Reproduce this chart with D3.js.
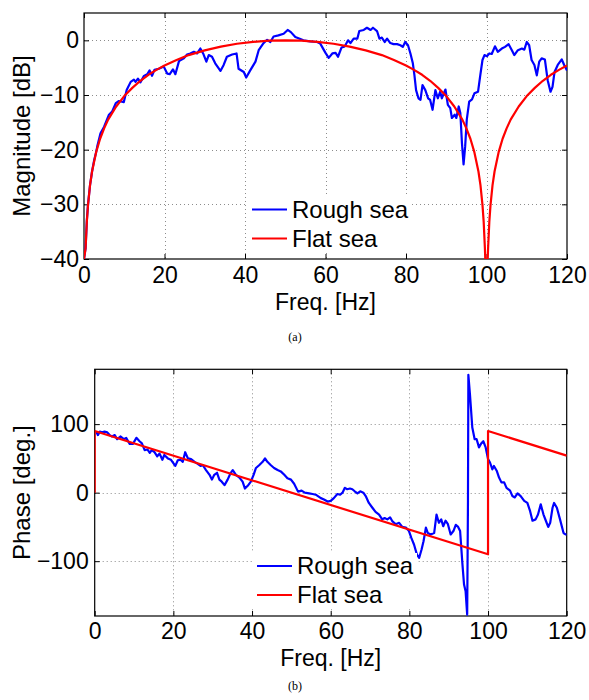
<!DOCTYPE html>
<html><head><meta charset="utf-8">
<script src="https://cdn.jsdelivr.net/npm/d3@7"></script>
<style>html,body{margin:0;padding:0;background:#fff;}svg{display:block;}</style>
</head><body>
<script>
// ---------- DATA ----------
const freqTicks = [0, 20, 40, 60, 80, 100, 120];
const magTicks = [-40, -30, -20, -10, 0];
const phaseTicks = [-100, 0, 100];
const seriesNames = ["Rough sea", "Flat sea"];

// Magnitude, rough sea [freq Hz, dB]
const magRough = [[0,-40],[0.4,-38],[0.7,-33],[1,-30],[1.5,-26.5],[2,-24],[2.5,-22],[3,-20.5],[3.3,-19.4],[4.1,-17],[5,-15.8],[6.2,-13.6],[7,-13],[7.9,-11.5],[8.7,-11.1],[9.9,-11.3],[10.6,-9.1],[11.6,-7.6],[12.4,-7.2],[12.8,-7.6],[13.4,-7.0],[14,-7.7],[14.9,-6.5],[15.7,-6.2],[16.3,-5.5],[16.9,-6.5],[17.5,-5.4],[18.6,-5.2],[19.8,-4.8],[20.7,-6.1],[21.3,-6.2],[22.1,-5.3],[22.7,-6.2],[23.6,-3.8],[24.8,-3.3],[25.6,-2.6],[26.4,-2.4],[27.3,-2.1],[28.1,-2.4],[28.9,-1.5],[29.6,-2.4],[30.4,-3.9],[31,-2.7],[31.8,-3.0],[32.6,-4.2],[33.9,-5.6],[34.7,-4.5],[35.5,-3.0],[36.8,-2.6],[37.9,-2.4],[38.4,-5.2],[39.7,-5.8],[40.3,-6.8],[41.3,-5.5],[42.6,-3.9],[43.4,-1.8],[44.6,-0.5],[45.5,0.1],[46.3,-0.3],[47.1,0.7],[48.3,0.9],[49.6,1.2],[50.6,1.9],[51.4,1.5],[52.5,0.6],[53.6,0.3],[54.5,0],[56.2,-0.2],[57.9,-0.3],[58.7,-0.6],[60,-2.3],[60.8,-3.2],[61.7,-2.4],[62.5,-2.3],[63.1,-3.0],[64,-1.3],[64.8,-1.1],[65.6,0],[66.2,-0.5],[67,0.3],[67.9,0.3],[68.4,1.7],[69.5,1.9],[70.3,2.3],[71.2,1.9],[71.8,2.3],[72.8,1.7],[73.4,0.3],[74,0.5],[74.7,-0.3],[75.3,0.3],[76.1,-0.5],[76.9,-0.7],[77.8,-0.7],[78.6,-0.9],[79.2,-1.2],[79.8,-0.3],[80.5,-0.9],[81.1,-2.4],[81.7,-4.2],[82.1,-6.4],[82.5,-9.1],[83.1,-10.6],[83.6,-10.9],[84.1,-8.2],[84.8,-9.1],[85.5,-10.6],[86,-10.9],[86.6,-12.7],[87.3,-9.1],[87.9,-10.6],[88.5,-9.4],[88.9,-10.6],[89.8,-9.0],[90.4,-11.8],[91,-12.4],[91.4,-14.2],[92.1,-13.6],[92.5,-14.2],[93.1,-12.1],[93.5,-13.3],[93.9,-18.8],[94.3,-22.7],[94.7,-19.4],[95.1,-14.5],[95.7,-11.2],[96.4,-10.8],[97,-9.7],[97.9,-9.4],[98.4,-6.7],[99,-3.6],[99.5,-2.7],[100.1,-2.9],[100.7,-2.4],[101.3,-2.5],[102.1,-1.1],[102.8,-2.1],[103.8,-1.5],[104.6,-1.2],[105.5,-0.7],[106.3,-1.8],[106.9,-2.7],[107.8,-1.8],[108.8,-1.5],[109.4,-1.7],[110,-0.3],[110.6,-0.9],[111.2,-3.6],[111.9,-4.5],[112.5,-6.4],[113.1,-3.9],[113.7,-3.3],[114.5,-3.5],[115.2,-7.3],[115.9,-9.4],[116.4,-8.5],[116.9,-5.8],[117.7,-4.5],[118.7,-3.5],[119.3,-4.5],[120,-5.5]];

// Magnitude, flat sea [freq Hz, dB]
const magFlat = [[0,-40],[0.4,-38],[0.7,-33.2],[1,-30.1],[1.5,-26.5],[2,-24],[3,-20.5],[4,-18],[5,-16.1],[6,-14.5],[8,-12.1],[10,-10.2],[12,-8.7],[14,-7.4],[16,-6.3],[18,-5.4],[20,-4.6],[23,-3.6],[26,-2.7],[30,-1.84],[34,-1.15],[38,-0.63],[42,-0.28],[46,-0.07],[50,0],[54,-0.07],[58,-0.28],[62,-0.63],[66,-1.15],[70,-1.84],[74,-2.7],[77,-3.6],[80,-4.6],[82,-5.4],[84,-6.3],[86,-7.4],[88,-8.7],[90,-10.2],[92,-12.1],[94,-14.5],[95,-16.1],[96,-18],[97,-20.5],[98,-24],[98.5,-26.5],[99,-30.1],[99.3,-33.2],[99.6,-38],[99.7,-40],[100.3,-40],[100.4,-38],[100.7,-33.2],[101,-30.1],[101.5,-26.5],[102,-24],[103,-20.5],[104,-18],[105,-16.1],[106,-14.5],[108,-12.1],[110,-10.2],[112,-8.7],[114,-7.4],[116,-6.3],[118,-5.4],[120,-4.6]];

// Phase, rough sea [freq Hz, deg]
const phaseRough = [[0.4,89],[0.8,84],[1.3,89],[1.9,88],[2.5,89],[3.2,88],[3.8,84],[4.4,82],[5.1,84],[5.7,78],[6.6,82],[7.4,78],[8,80],[8.9,71],[9.7,71],[10.6,80],[11.4,75],[12,72],[12.7,62],[13.4,63],[14,58],[14.5,62],[15.2,59],[15.9,53],[16.5,57],[17.2,48],[17.7,55],[18.6,50],[19.4,48],[20.5,39],[21.1,47],[21.8,48],[22.4,45],[23,59],[23.7,50],[24.5,49],[25.4,45],[26.2,42],[26.9,39],[27.5,40],[28.3,33],[29.2,26],[29.8,19],[30.4,26],[31.1,29],[31.7,19],[32.3,16],[33,11],[33.8,19],[34.5,28],[35.1,33],[35.9,26],[36.8,22],[37.6,16],[38.2,6],[38.9,10],[39.7,16],[40.4,26],[41,36],[41.8,40],[42.7,45],[43.3,50],[43.9,45],[44.8,40],[45.6,36],[46.5,33],[47.3,31],[48.2,26],[49,21],[49.9,19],[50.7,13],[51.7,1.5],[52.6,3],[53.4,0],[54.5,-1],[55.4,-2],[56.2,-3],[57.5,-8],[58.3,-10],[59.2,-13],[60,-12],[60.8,-8],[61.7,-2],[62.4,-3],[63,0],[63.6,7],[64.2,5],[64.9,6],[65.5,5],[66.1,2],[66.8,-1],[67.5,2],[68.3,0],[68.9,-5],[69.7,-15],[70.6,-22],[71.4,-28],[72.3,-32],[73.1,-39],[73.7,-37],[74.4,-39],[75.1,-36],[75.7,-42],[76.5,-46],[77.4,-44],[78.2,-50],[79.1,-51],[79.9,-56],[80.5,-66],[81.2,-76],[81.9,-90],[82.5,-95],[83.1,-83],[83.6,-71],[83.9,-61],[84.2,-51],[84.7,-59],[85.4,-61],[86.3,-59],[86.9,-32],[87.5,-44],[88.1,-39],[88.6,-49],[89.2,-41],[89.8,-46],[90.5,-61],[91.2,-56],[91.8,-47],[92.4,-50],[92.9,-56],[93.5,-105],[93.9,-134],[94.3,-144],[94.7,-178],[94.9,-12],[95,172],[95.4,144],[96,95],[96.6,78],[97.1,78],[97.7,66],[98.3,72],[98.8,75],[99.4,66],[100,49],[100.5,44],[101.1,34],[101.5,39],[102.2,32],[102.8,22],[103.4,15],[104.1,15],[104.7,7],[105.6,3],[106.2,-5],[106.8,-7],[107.5,-1],[108.3,-5],[109.2,-12],[110,-15],[110.7,-27],[111.3,-41],[112.1,-39],[112.7,-32],[113.4,-17],[114.1,-32],[114.7,-41],[115.3,-50],[115.8,-44],[116.4,-22],[116.8,-15],[117.5,-22],[118.3,-39],[119.2,-59],[119.7,-61],[120,-61]];

// Phase, flat sea [freq Hz, deg]
const phaseFlat = [[0,0],[0,90],[100,-90],[100,90],[120,54]];

const captions = ["(a)", "(b)"];

// ---------- DRAW ----------
const W = 589, H = 700;
const FONT = "Liberation Sans, Arial, Helvetica, sans-serif";
const FS = 23;
const svg = d3.select("body").append("svg").attr("width", W).attr("height", H)
  .style("font-family", FONT);

function panel(cfg) {
  const x = d3.scaleLinear().domain([0, 120]).range([cfg.left, cfg.right]);
  const y = d3.scaleLinear().domain(cfg.ydom).range([cfg.bottom, cfg.top]);
  const g = svg.append("g");
  const id = "clip" + cfg.key;
  svg.append("defs").append("clipPath").attr("id", id).append("rect")
    .attr("x", cfg.left).attr("y", cfg.top)
    .attr("width", cfg.right - cfg.left).attr("height", cfg.bottom - cfg.top);

  // grid
  const grid = g.append("g").attr("stroke", "#8c8c8c").attr("stroke-width", 1)
    .attr("stroke-dasharray", "1,3");
  freqTicks.filter(t => t > 0 && t < 120).forEach(t => {
    grid.append("line").attr("x1", Math.round(x(t)) + 0.5).attr("x2", Math.round(x(t)) + 0.5)
      .attr("y1", cfg.top).attr("y2", cfg.bottom);
  });
  cfg.yticks.filter(t => y(t) > cfg.top + 1 && y(t) < cfg.bottom - 1).forEach(t => {
    grid.append("line").attr("y1", Math.round(y(t)) + 0.5).attr("y2", Math.round(y(t)) + 0.5)
      .attr("x1", cfg.left).attr("x2", cfg.right);
  });

  // axes
  const fmt = d => d < 0 ? "\u2212" + Math.abs(d) : String(d);
  const axB = g.append("g").attr("transform", `translate(0,${cfg.bottom})`)
    .call(d3.axisBottom(x).tickValues(freqTicks).tickSize(-5).tickPadding(cfg.xpad).tickFormat(fmt));
  const axT = g.append("g").attr("transform", `translate(0,${cfg.top})`)
    .call(d3.axisTop(x).tickValues(freqTicks).tickSize(-5).tickFormat(""));
  const axL = g.append("g").attr("transform", `translate(${cfg.left},0)`)
    .call(d3.axisLeft(y).tickValues(cfg.yticks).tickSize(-5).tickPadding(cfg.ypad).tickFormat(fmt));
  const axR = g.append("g").attr("transform", `translate(${cfg.right},0)`)
    .call(d3.axisRight(y).tickValues(cfg.yticks).tickSize(-5).tickFormat(""));
  [axB, axT, axL, axR].forEach(a => {
    a.select(".domain").remove();
    a.selectAll("line").attr("stroke", "#000");
    a.selectAll("text").attr("font-size", FS).attr("fill", "#000").style("font-family", FONT);
  });
  g.append("rect").attr("x", cfg.left).attr("y", cfg.top)
    .attr("width", cfg.right - cfg.left).attr("height", cfg.bottom - cfg.top)
    .attr("fill", "none").attr("stroke", "#000").attr("stroke-width", 1.2);

  // lines
  const line = d3.line().x(d => x(d[0])).y(d => y(d[1]));
  const lg = g.append("g").attr("clip-path", `url(#${id})`);
  lg.append("path").datum(cfg.rough).attr("d", line).attr("fill", "none")
    .attr("stroke", "#0000ff").attr("stroke-width", 2.2).attr("stroke-linejoin", "round");
  lg.append("path").datum(cfg.flat).attr("d", line).attr("fill", "none")
    .attr("stroke", "#ff0000").attr("stroke-width", 2.2).attr("stroke-linejoin", "round");

  // legend
  const L = cfg.legend;
  g.append("rect").attr("x", L.x - 5).attr("y", L.y - 13).attr("width", 165).attr("height", L.dy + 26)
    .attr("fill", "#fff");
  [["#0000ff", seriesNames[0]], ["#ff0000", seriesNames[1]]].forEach((s, i) => {
    const yy = L.y + i * L.dy;
    g.append("line").attr("x1", L.x).attr("x2", L.x + 35).attr("y1", yy).attr("y2", yy)
      .attr("stroke", s[0]).attr("stroke-width", 2.2);
    g.append("text").attr("x", L.x + 40).attr("y", yy).attr("dy", "0.35em")
      .attr("font-size", 24).text(s[1]);
  });

  // labels
  g.append("text").attr("x", (cfg.left + cfg.right) / 2).attr("y", cfg.xlabY)
    .attr("text-anchor", "middle").attr("font-size", FS).text("Freq. [Hz]");
  g.append("text").attr("transform", `translate(22,${(cfg.top + cfg.bottom) / 2}) rotate(-90)`)
    .attr("text-anchor", "middle").attr("dy", "0.35em").attr("font-size", 24).text(cfg.ylabel);
  g.append("text").attr("x", 295).attr("y", cfg.capY).attr("text-anchor", "middle")
    .attr("font-family", "Liberation Serif, Times New Roman, serif").attr("font-size", 12).text(cfg.caption);
}

panel({key: "a", left: 84, right: 567, top: 13, bottom: 259, ydom: [-40, 5], yticks: magTicks,
  xpad: 8, ypad: 5, rough: magRough, flat: magFlat,
  legend: {x: 252, y: 209.5, dy: 29},
  xlabY: 309.5, ylabel: "Magnitude [dB]", capY: 341, caption: captions[0]});

panel({key: "b", left: 94.7, right: 566.7, top: 369.3, bottom: 616, ydom: [-180, 180], yticks: phaseTicks,
  xpad: 7, ypad: 6, rough: phaseRough, flat: phaseFlat,
  legend: {x: 257, y: 566, dy: 29},
  xlabY: 665.5, ylabel: "Phase [deg.]", capY: 690, caption: captions[1]});
</script>
</body></html>
